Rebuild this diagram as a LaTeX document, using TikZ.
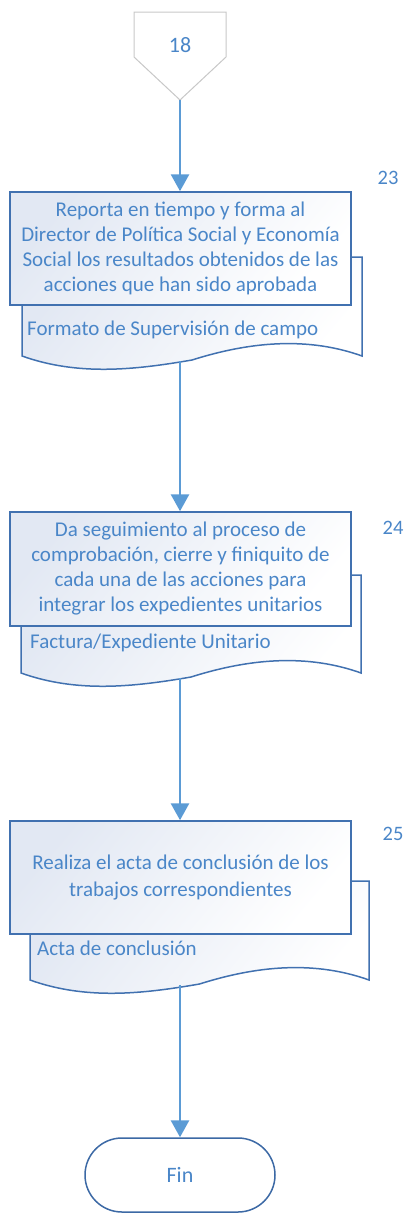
\documentclass[tikz,border=0pt]{standalone}
\usepackage{fontspec}
\setmainfont{Carlito}
\usetikzlibrary{arrows.meta}
\definecolor{txt}{RGB}{74,134,200}
\definecolor{bord}{RGB}{65,113,176}
\definecolor{arr}{RGB}{91,155,213}
\definecolor{fillc}{RGB}{226,232,243}
\definecolor{gry}{RGB}{200,200,200}
\definecolor{termb}{RGB}{60,105,165}
\tikzset{
  procbox/.style={draw=bord, line width=1.5pt, top color=fillc, bottom color=white, shading angle=50,
    minimum width=341pt, align=center, text=txt, font=\fontsize{21}{25}\selectfont, inner sep=0pt},
  docbox/.style={draw=bord, line width=1.5pt, top color=fillc, bottom color=white, shading angle=50},
  doclabel/.style={anchor=west, text=txt, font=\fontsize{21}{25}\selectfont, inner sep=0pt},
  numlabel/.style={text=txt, font=\fontsize{20.5}{24}\selectfont, inner sep=0pt},
  flow/.style={draw=arr, line width=2.8pt, -{Triangle[width=18pt,length=17pt]}},
  termbox/.style={draw=termb, line width=1.5pt, fill=white, rounded corners=37pt,
    minimum width=190pt, minimum height=74pt, text=txt, font=\fontsize{22}{26}\selectfont},
  offpage/.style={draw=gry, line width=1pt, fill=white}
}
\newcommand{\docshape}[4]{%
  \path[docbox] (#1,#3) -- (#2,#3) -- (#2,#4)
    .. controls ({#2-0.18*(#2-#1)},{#4-22}) and ({(#1+#2)/2+0.14*(#2-#1)},{#4-11}) .. ({(#1+#2)/2},{#4+4})
    .. controls ({#1+0.33*(#2-#1)},{#4+14}) and ({#1+0.165*(#2-#1)},{#4+20}) .. (#1,#4) -- cycle;}
\begin{document}
\begin{tikzpicture}[x=1pt,y=-1pt]
\useasboundingbox (0,0) rectangle (409,1213);
% off-page connector
\path[offpage] (134,12) -- (226,12) -- (226,57) -- (180,100) -- (134,57) -- cycle;
\node[text=txt, font=\fontsize{22}{26}\selectfont] (c18) at (180,45) {18};
\coordinate (c18tip) at (180,100);
% step 23
\docshape{22}{362}{257}{356}
\node[procbox, minimum height=113pt] (b1) at (180.5,248.5) {Reporta en tiempo y forma al\\Director de Política Social y Economía\\Social los resultados obtenidos de las\\acciones que han sido aprobada};
\node[doclabel] (l1) at (27,330) {Formato de Supervisión de campo};
\node[numlabel] (n23) at (388,178) {23};
\coordinate (d1) at (180,361);
% step 24
\docshape{21}{361}{575}{673}
\node[procbox, minimum height=114pt] (b2) at (180.5,569) {Da seguimiento al proceso de\\comprobación, cierre y finiquito de\\cada una de las acciones para\\integrar los expedientes unitarios};
\node[doclabel] (l2) at (30,643) {Factura/Expediente Unitario};
\node[numlabel] (n24) at (393,528) {24};
\coordinate (d2) at (180,678);
% step 25
\docshape{30}{369}{881}{980}
\node[procbox, minimum height=113pt, font=\fontsize{21}{27}\selectfont] (b3) at (180.5,877.5) {Realiza el acta de conclusión de los\\trabajos correspondientes};
\node[doclabel] (l3) at (37,948) {Acta de conclusión};
\node[numlabel] (n25) at (393,834) {25};
\coordinate (d3) at (180,985);
% terminal
\node[termbox] (fin) at (180,1175) {Fin};
% connectors
\draw[flow] (c18tip) -- (c18tip |- b1.north);
\draw[flow] (d1) -- (d1 |- b2.north);
\draw[flow] (d2) -- (d2 |- b3.north);
\draw[flow] (d3) -- (d3 |- fin.north);
\end{tikzpicture}
\end{document}
